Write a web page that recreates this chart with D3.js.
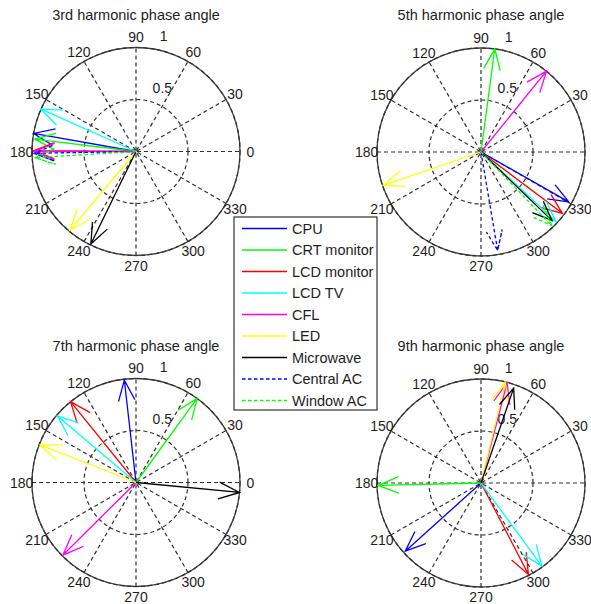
<!DOCTYPE html>
<html>
<head>
<meta charset="utf-8">
<script src="https://cdn.jsdelivr.net/npm/d3@7/dist/d3.min.js"></script>
<style>
  body { margin: 0; background: #fff; }
  svg { display: block; font-family: "Liberation Sans", Arial, sans-serif; }
</style>
</head>
<body>
<script>
// Harmonic phase angles of household loads (compass plots, magnitude normalised to 1)
const devices = ["CPU", "CRT monitor", "LCD monitor", "LCD TV", "CFL", "LED", "Microwave", "Central AC", "Window AC"];
const titles = ["3rd harmonic phase angle", "5th harmonic phase angle", "7th harmonic phase angle", "9th harmonic phase angle"];

// magnitude / angle (degrees) per device, one pair of arrays per harmonic
const mag3 = [1.00, 0.98, 0.98, 1.00, 0.98, 0.985, 0.99, 0.98, 0.97];
const ang3 = [170, 173, 179.5, 156, 180, 230, 244, 181, 183.5];
const mag5 = [0.97, 1.00, 0.98, 0.98, 1.00, 0.99, 0.95, 0.96, 0.98];
const ang5 = [330.4, 82.4, 323, 317.2, 51, 198.8, 316, 279.6, 313.8];
const mag7 = [0.99, 1.00, 1.00, 0.99, 0.99, 0.99, 1.00, 0, 0];
const ang7 = [96.5, 54, 129, 139.7, 224.8, 158.6, 354.5, 0, 0];
const mag9 = [0.98, 0.99, 0.99, 0.99, 0.995, 1.00, 0.965, 0, 0];
const ang9 = [222, 181.3, 297.4, 306.2, 75.4, 76.5, 71, 0, 0];

const spokeAngles = [0, 30, 60, 90, 120, 150];
const angleLabels = [0, 30, 60, 90, 120, 150, 180, 210, 240, 270, 300, 330];
const ringTicks = [0.5, 1];

const colors = ["#0000ff", "#00ff00", "#ff0000", "#00ffff", "#ff00ff", "#ffff00", "#000000", "#0000ff", "#00ff00"];
const dashed = [false, false, false, false, false, false, false, true, true];

const W = 591, H = 604;
const R = 104;
const centers = [[136, 151.5], [481, 152], [136, 482.5], [481, 483]];
const series = [[mag3, ang3], [mag5, ang5], [mag7, ang7], [mag9, ang9]];

const svg = d3.select("body").append("svg").attr("width", W).attr("height", H);
const textColor = "#1e1e1e";
const gridColor = "#303030";

const r = d3.scaleLinear().domain([0, 1]).range([0, R]);
const rad = d => d * Math.PI / 180;
// polar -> local svg coordinates (y up)
const px = (m, a) => r(m) * Math.cos(rad(a));
const py = (m, a) => -r(m) * Math.sin(rad(a));

series.forEach(([mags, angs], k) => {
  const [cx, cy] = centers[k];
  const g = svg.append("g").attr("transform", `translate(${cx},${cy})`);

  // outer frame
  g.append("circle").attr("r", r(1)).attr("fill", "#fff")
    .attr("stroke", "#404040").attr("stroke-width", 1.3);

  // dashed rings
  g.selectAll("circle.ring").data(ringTicks).join("circle")
    .attr("class", "ring").attr("r", d => r(d)).attr("fill", "none")
    .attr("stroke", gridColor).attr("stroke-width", 1.2).attr("stroke-dasharray", "4,3");

  // dashed spokes
  g.selectAll("line.spoke").data(spokeAngles).join("line")
    .attr("class", "spoke")
    .attr("x1", d => px(1, d + 180)).attr("y1", d => py(1, d + 180))
    .attr("x2", d => px(1, d)).attr("y2", d => py(1, d))
    .attr("stroke", gridColor).attr("stroke-width", 1.2).attr("stroke-dasharray", "4,3");

  // angle labels
  g.selectAll("text.ang").data(angleLabels).join("text")
    .attr("class", "ang")
    .attr("x", d => px(1.1, d)).attr("y", d => py(1.1, d))
    .attr("text-anchor", "middle").attr("dominant-baseline", "central")
    .attr("font-size", 14).attr("fill", textColor)
    .text(d => d);

  // ring labels at 82 degrees
  g.selectAll("text.ringlab").data(ringTicks).join("text")
    .attr("class", "ringlab")
    .attr("x", d => px(d + 0.025, 82) + 9).attr("y", d => py(d + 0.025, 82) - 4.5)
    .attr("font-size", 14).attr("fill", textColor)
    .text(d => d);

  // title
  svg.append("text").attr("x", cx).attr("y", cy - 132)
    .attr("text-anchor", "middle").attr("font-size", 14.5).attr("fill", textColor)
    .text(titles[k]);

  // compass arrows: shaft to tip, then two barbs
  const arrows = devices.map((name, i) => ({ i, m: mags[i], a: angs[i] })).filter(d => d.m > 0);
  const shape = [[0, 0], [1, 0], [0.8, 0.08], [1, 0], [0.8, -0.08]];
  g.selectAll("path.arrow").data(arrows).join("path")
    .attr("class", "arrow")
    .attr("d", d => {
      const c = Math.cos(rad(d.a)), s = Math.sin(rad(d.a));
      const pts = shape.map(([u, v]) => {
        const x = u * c - v * s, y = u * s + v * c;
        return [r(d.m) * x, -r(d.m) * y];
      });
      return d3.line()(pts);
    })
    .attr("fill", "none")
    .attr("stroke", d => colors[d.i])
    .attr("stroke-width", 1.3)
    .attr("stroke-dasharray", d => dashed[d.i] ? "3.5,2.5" : null);
});

// legend
const lx = 234, ly = 217, lw = 143, lh = 193;
const leg = svg.append("g");
leg.append("rect").attr("x", lx).attr("y", ly).attr("width", lw).attr("height", lh)
  .attr("fill", "#fff").attr("stroke", "#333").attr("stroke-width", 1.2);
const rowY = d3.scaleLinear().domain([0, devices.length - 1]).range([228.5, 400.5]);
const items = leg.selectAll("g.item").data(devices).join("g").attr("class", "item")
  .attr("transform", (d, i) => `translate(0,${rowY(i)})`);
items.append("line").attr("x1", 242).attr("x2", 287).attr("y1", 0).attr("y2", 0)
  .attr("stroke", (d, i) => colors[i]).attr("stroke-width", 1.3)
  .attr("stroke-dasharray", (d, i) => dashed[i] ? "3.5,2.5" : null);
items.append("text").attr("x", 292).attr("y", 0).attr("dominant-baseline", "central")
  .attr("font-size", 14.5).attr("fill", textColor).text(d => d);
</script>
</body>
</html>
